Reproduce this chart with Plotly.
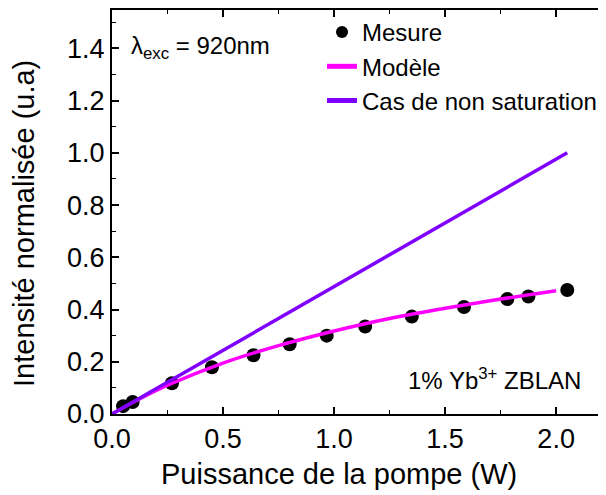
import plotly.graph_objects as go

# Measured data (Mesure)
power_meas = [0.05, 0.093, 0.27, 0.45, 0.637, 0.80, 0.967, 1.14, 1.35, 1.585, 1.78, 1.875, 2.05]
intens_meas = [0.030, 0.046, 0.118, 0.179, 0.225, 0.267, 0.300, 0.335, 0.373, 0.410, 0.440, 0.450, 0.475]

# Model curve (Modèle)
power_model = [0.0, 0.1, 0.25, 0.5, 0.75, 1.0, 1.25, 1.5, 1.75, 2.0]
intens_model = [0.0, 0.047, 0.110, 0.195, 0.262, 0.318, 0.366, 0.405, 0.440, 0.472]

# Non-saturation case
power_lin = [0.0, 2.05]
intens_lin = [0.0, 1.0]

x_ticks = [0.0, 0.5, 1.0, 1.5, 2.0]
x_ticklabels = ["0.0", "0.5", "1.0", "1.5", "2.0"]
y_ticks = [0.0, 0.2, 0.4, 0.6, 0.8, 1.0, 1.2, 1.4]
y_ticklabels = ["0.0", "0.2", "0.4", "0.6", "0.8", "1.0", "1.2", "1.4"]

FONT = "Liberation Sans, Arial, Helvetica, sans-serif"

# layout geometry (figure pixels)
W, H = 606, 495
L, R, T, B = 104, 9, 0, 89
PW, PH = W - L - R, H - T - B


def px(x):
    return (x - L) / PW


def py(y):
    return (PH - (y - T)) / PH


fig = go.Figure()
fig.add_trace(go.Scatter(x=power_meas, y=intens_meas, mode="markers", name="Mesure",
                         marker=dict(color="black", size=14)))
fig.add_trace(go.Scatter(x=power_model, y=intens_model, mode="lines", name="Modèle",
                         line=dict(color="#FF00FF", width=3.5, shape="spline")))
fig.add_trace(go.Scatter(x=power_lin, y=intens_lin, mode="lines", name="Cas de non saturation",
                         line=dict(color="#8000FF", width=3.5)))

axis_common = dict(showline=True, linecolor="black", linewidth=2, mirror="allticks",
                   ticks="inside", ticklen=7, tickwidth=1.5, tickcolor="black",
                   showgrid=False, zeroline=False,
                   tickfont=dict(family=FONT, size=27, color="black"))

fig.update_xaxes(range=[0, 2.22], tickvals=x_ticks, ticktext=x_ticklabels,
                 minor=dict(dtick=0.25, ticks="inside", ticklen=4, tickwidth=1.2, tickcolor="black"),
                 **axis_common)
fig.update_yaxes(range=[0, 1.547], tickvals=y_ticks, ticktext=y_ticklabels,
                 minor=dict(dtick=0.1, ticks="inside", ticklen=4, tickwidth=1.2, tickcolor="black"),
                 **axis_common)

fig.add_annotation(text="Puissance de la pompe (W)", xref="paper", yref="paper",
                   x=px(331), y=py(466), xanchor="center", yanchor="middle",
                   showarrow=False, font=dict(family=FONT, size=29, color="black"))
fig.add_annotation(text="Intensité normalisée (u.a)", xref="paper", yref="paper",
                   x=px(16), y=py(215), xanchor="center", yanchor="middle", textangle=-90,
                   showarrow=False, font=dict(family=FONT, size=29, color="black"))
fig.add_annotation(text="λ<sub>exc</sub> = 920nm", xref="paper", yref="paper",
                   x=px(121), y=py(38), xanchor="left", yanchor="middle",
                   showarrow=False, font=dict(family=FONT, size=24, color="black"))
fig.add_annotation(text="1% Yb<sup>3+</sup> ZBLAN", xref="paper", yref="paper",
                   x=px(575), y=py(371), xanchor="right", yanchor="middle",
                   showarrow=False, font=dict(family=FONT, size=24, color="black"))

fig.update_layout(
    width=W, height=H,
    margin=dict(l=L, r=R, t=T, b=B),
    paper_bgcolor="white", plot_bgcolor="white",
    showlegend=True,
    legend=dict(x=px(314), y=py(0), xanchor="left", yanchor="top",
                bgcolor="rgba(0,0,0,0)", borderwidth=0,
                font=dict(family=FONT, size=24, color="black"),
                tracegroupgap=0, itemsizing="constant"),
    font=dict(family=FONT, color="black"),
)

fig.write_html("out.html")
